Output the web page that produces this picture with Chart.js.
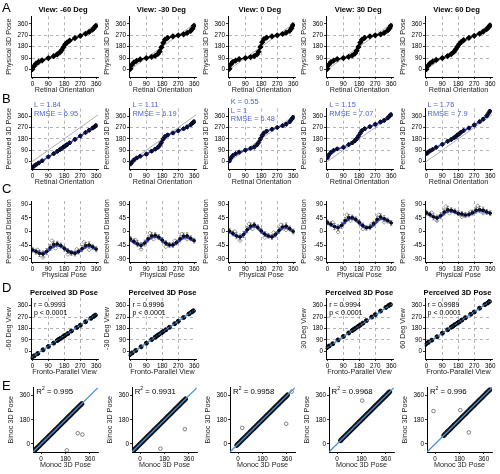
<!DOCTYPE html>
<html>
<head>
<meta charset="utf-8">
<script src="https://cdn.jsdelivr.net/npm/chart.js@4.4.1/dist/chart.umd.min.js"></script>
<style>
  body { margin: 0; background: #fff; }
  #fig { position: relative; width: 500px; height: 474px; overflow: hidden; font-family: "Liberation Sans", Arial, sans-serif; }
  #fig canvas { position: absolute; }
  .t { position: absolute; white-space: nowrap; line-height: 1; color: #000; }
</style>
</head>
<body>
<div id="fig"></div>
<script>
// ---------- data ----------
const views = ['-60', '-30', '0', '30', '60'];
const ticks360 = [0, 90, 180, 270, 360];
const ticksE = [0, 180, 360];
const ticksDist = [-90, -45, 0, 45, 90];
const midLines = [90, 180, 270];

// A / B : retinal orientation (deg)
const retinal = [0, 8, 20, 35, 55, 90, 120, 140, 155, 165, 175, 185, 195, 210, 240, 270, 300, 320, 340, 350, 358];
const physA = [
  [2, 25, 45, 60, 72, 90, 105, 118, 135, 152, 175, 198, 212, 228, 248, 265, 282, 296, 315, 332, 345],
  [5, 35, 55, 68, 80, 90, 100, 108, 122, 142, 175, 210, 235, 250, 262, 270, 278, 288, 305, 322, 345],
  [5, 40, 60, 70, 82, 90, 98, 106, 118, 140, 178, 215, 240, 252, 262, 270, 280, 290, 305, 325, 350],
  [5, 38, 58, 70, 82, 90, 100, 110, 125, 148, 178, 212, 235, 250, 262, 270, 278, 288, 308, 325, 345],
  [2, 28, 48, 62, 75, 90, 106, 120, 138, 158, 180, 200, 215, 232, 250, 266, 282, 298, 318, 332, 348]
];
const errA = [6, 8, 6, 5, 5, 6, 6, 8, 8, 10, 10, 10, 8, 8, 6, 6, 6, 8, 8, 10, 10];

const percB = [
  [-45, -38, -25, -12, 5, 38, 62, 80, 95, 104, 115, 124, 133, 148, 175, 202, 230, 248, 266, 276, 285],
  [-20, -6, 12, 28, 42, 58, 82, 98, 112, 128, 150, 178, 198, 210, 226, 244, 260, 274, 292, 305, 316],
  [5, 28, 48, 62, 74, 90, 104, 114, 132, 152, 180, 206, 226, 240, 256, 270, 284, 296, 316, 335, 350],
  [30, 52, 72, 88, 100, 112, 134, 148, 164, 180, 200, 224, 245, 260, 276, 295, 314, 326, 346, 360, 372],
  [62, 72, 84, 96, 112, 136, 160, 175, 188, 198, 210, 220, 232, 246, 266, 290, 316, 336, 362, 382, 400]
];
const fitB = [
  [-48, -40, -28, -14, 4, 36, 62, 80, 94, 103, 113, 123, 133, 148, 176, 202, 230, 248, 266, 275, 283],
  [-22, -8, 10, 26, 40, 58, 82, 98, 112, 128, 150, 178, 196, 210, 226, 244, 260, 274, 292, 304, 314],
  [2, 26, 46, 60, 72, 90, 104, 114, 130, 150, 180, 208, 228, 242, 256, 270, 284, 296, 314, 332, 348],
  [28, 50, 70, 86, 98, 112, 134, 148, 164, 180, 200, 224, 244, 258, 276, 294, 314, 326, 344, 358, 370],
  [60, 70, 82, 95, 112, 136, 160, 174, 186, 196, 208, 220, 232, 246, 266, 290, 316, 336, 360, 380, 398]
];
const errB = [8, 8, 8, 6, 6, 8, 8, 10, 10, 12, 12, 12, 10, 10, 8, 8, 8, 10, 10, 12, 12];
const statsB = [
  ['L = 1.84', 'RMSE = 6.95'],
  ['L = 1.11', 'RMSE = 6.19'],
  ['K = 0.55', 'L = 1', 'RMSE = 6.48'],
  ['L = 1.15', 'RMSE = 7.07'],
  ['L = 1.76', 'RMSE = 7.9']
];

// C : physical pose (deg) vs perceived distortion
const physPose = [0, 20, 40, 60, 80, 100, 120, 140, 160, 180, 200, 220, 240, 260, 280, 300, 320, 340, 360];
const distC = [
  [-60, -66, -72, -74, -66, -52, -42, -40, -46, -56, -64, -70, -72, -66, -56, -46, -44, -50, -58],
  [-24, -32, -40, -46, -38, -24, -14, -12, -18, -28, -38, -44, -44, -36, -24, -15, -14, -22, -30],
  [2, -6, -14, -18, -10, 6, 18, 22, 14, 2, -8, -14, -18, -10, 4, 15, 18, 10, 0],
  [30, 24, 16, 12, 20, 36, 46, 46, 40, 30, 20, 12, 14, 26, 40, 48, 42, 36, 28],
  [62, 56, 48, 44, 52, 64, 72, 70, 66, 60, 58, 54, 56, 62, 70, 72, 70, 64, 60]
];
const fitC = [
  [-60, -65, -70, -71, -66, -56, -47, -44, -47, -55, -63, -68, -70, -66, -58, -50, -47, -51, -58],
  [-28, -35, -42, -44, -38, -27, -18, -16, -20, -30, -39, -44, -44, -37, -27, -19, -18, -24, -31],
  [0, -8, -15, -17, -10, 4, 15, 18, 12, 0, -10, -16, -17, -10, 2, 13, 15, 8, 0],
  [28, 22, 16, 14, 20, 32, 42, 44, 38, 28, 18, 13, 14, 22, 34, 43, 42, 36, 28],
  [60, 54, 48, 46, 50, 60, 68, 68, 64, 58, 56, 54, 55, 60, 67, 70, 68, 64, 60]
];
const errC = [8, 8, 10, 10, 10, 10, 10, 8, 8, 8, 8, 8, 8, 8, 10, 10, 10, 8, 8];
// individual-observer samples (open diamonds)
const rawCx = [30, 60, 110, 130, 200, 250, 290, 320];
const rawC = [
  [-60, -85, -30, -55, -75, -58, -35, -60],
  [-28, -58, -5, -25, -50, -30, -8, -25],
  [0, -30, 25, 8, -20, -3, 22, 5],
  [30, -2, 55, 35, 8, 25, 55, 30],
  [62, 35, 82, 60, 48, 65, 84, 60]
];

// D : other view vs fronto-parallel view
const frontoX = [-5, 10, 30, 60, 90, 120, 140, 150, 160, 175, 185, 200, 220, 250, 270, 300, 330, 345, 355];
const viewD = [
  [-50, -35, -17, 12, 38, 65, 85, 95, 103, 117, 127, 140, 160, 188, 205, 233, 260, 275, 285],
  [-27, -12, 7, 36, 64, 93, 112, 122, 132, 146, 156, 170, 189, 218, 237, 266, 295, 309, 319],
  null,
  [28, 42, 60, 90, 117, 145, 164, 174, 184, 198, 207, 222, 242, 270, 289, 317, 346, 360, 368],
  [55, 70, 88, 115, 143, 170, 190, 198, 210, 222, 232, 246, 265, 292, 310, 340, 368, 380, 392]
];
const errD = [6, 6, 6, 6, 6, 6, 8, 8, 8, 8, 8, 8, 8, 6, 6, 6, 8, 8, 8];
const fitDx = [-10, 362];
const fitDy = [[-52, 292], [-32, 326], null, [22, 372], [50, 398]];
const statsD = [['0.9993'], ['0.9996'], null, ['0.9994'], ['0.9989']];

// E : binocular vs monocular perceived pose
const bandE = [[-50, 300], [-50, 335], [-10, 365], [25, 388], [65, 410]];
const monoE = [
  [-45, -30, -10, 10, 40, 60, 80, 100, 120, 150, 180, 200, 220, 240, 260, 280, 295, 270, 305, 190],
  [-45, -25, -5, 20, 50, 80, 100, 130, 160, 180, 200, 230, 260, 290, 310, 330, 330, 150],
  [-5, 10, 30, 60, 90, 120, 150, 180, 210, 240, 270, 300, 330, 350, 362, 30, 355, 395],
  [30, 50, 70, 100, 130, 160, 190, 220, 250, 280, 310, 340, 360, 380, 185],
  [70, 90, 110, 140, 170, 200, 230, 260, 290, 320, 350, 380, 400, -12, 186, 249]
];
const binoE = [
  [-40, -28, -14, 14, 36, 64, 76, 104, 116, 154, 176, 204, 216, 244, 256, 284, 290, 80, 70, -48],
  [-40, -28, -1, 16, 54, 76, 104, 126, 164, 176, 204, 226, 264, 286, 314, 326, 110, -35],
  [0, 6, 34, 56, 94, 116, 154, 176, 214, 236, 274, 296, 334, 346, 358, 120, 150, 390],
  [24, 54, 66, 104, 126, 164, 186, 224, 246, 284, 306, 344, 356, 384, 323],
  [62, 94, 106, 144, 166, 204, 226, 264, 286, 324, 346, 384, 396, 245, 252, 86]
];
const r2E = ['0.995', '0.9931', '0.9958', '0.9968', '0.996'];

// ---------- drawing ----------
const FONT = '"Liberation Sans", Arial, sans-serif';
Chart.defaults.font.family = FONT;
const fig = document.getElementById('fig');

const BLUE = '#3347cc';
const TEXTBLUE = '#4a5fd6';
const LIGHTBLUE = '#4a92dc';

const colLeft = [31, 129.4, 227.8, 326.2, 424.6];
const colLeftE = [33.3, 131.7, 230.1, 328.5, 426.9];

function pts(xs, ys) {
  return xs.map((x, i) => ({ x: x, y: ys[i] }));
}

function text(str, x, y, size, opts = {}) {
  const d = document.createElement('div');
  d.className = 't';
  d.innerHTML = str;
  d.style.left = x + 'px';
  d.style.top = y + 'px';
  d.style.fontSize = size + 'px';
  if (opts.bold) d.style.fontWeight = 'bold';
  if (opts.color) d.style.color = opts.color;
  d.style.transform = opts.center ? 'translate(-50%,-50%)' : 'translate(0,-50%)';
  fig.appendChild(d);
}

// vertical error bars for datasets that carry an errs array
const errorBars = {
  id: 'errorBars',
  afterDatasetsDraw(chart) {
    const ctx = chart.ctx;
    const ys = chart.scales.y;
    chart.data.datasets.forEach((ds, i) => {
      if (!ds.errs) return;
      const meta = chart.getDatasetMeta(i);
      ctx.save();
      ctx.strokeStyle = ds.errColor || '#000';
      ctx.lineWidth = ds.errWidth || 0.7;
      meta.data.forEach((p, j) => {
        const v = ds.data[j].y, e = ds.errs[j];
        const y1 = ys.getPixelForValue(v - e), y2 = ys.getPixelForValue(v + e);
        ctx.beginPath();
        ctx.moveTo(p.x, y1); ctx.lineTo(p.x, y2);
        ctx.moveTo(p.x - 1.2, y1); ctx.lineTo(p.x + 1.2, y1);
        ctx.moveTo(p.x - 1.2, y2); ctx.lineTo(p.x + 1.2, y2);
        ctx.stroke();
      });
      ctx.restore();
    });
  }
};

function axis(range, ticks, grid, title, size) {
  return {
    type: 'linear',
    min: range[0],
    max: range[1],
    afterBuildTicks: s => { s.ticks = ticks.map(v => ({ value: v })); },
    afterFit: s => {
      if (s.isHorizontal()) s.height = size; else s.width = size;
      s.paddingLeft = s.paddingRight = s.paddingTop = s.paddingBottom = 0;
    },
    ticks: { font: { size: 6.3 }, color: '#000', padding: 1, maxRotation: 0, autoSkip: false },
    grid: {
      color: c => (c.tick && grid.includes(c.tick.value)) ? '#a0a0a0' : 'rgba(0,0,0,0)',
      tickColor: '#000',
      tickLength: 2,
      lineWidth: 0.8
    },
    border: { color: '#000', width: 1, dash: [3, 3] },
    title: { display: true, text: title, font: { size: 7.2 }, color: '#222', padding: 0 }
  };
}

function panel(o) {
  const yw = o.yw || 26, xh = 17, pt = 4, pr = 9;
  const cv = document.createElement('canvas');
  cv.width = Math.round(yw + o.w + pr);
  cv.height = Math.round(pt + o.h + xh);
  cv.style.left = (o.left - yw) + 'px';
  cv.style.top = (o.top - pt) + 'px';
  fig.appendChild(cv);
  new Chart(cv, {
    type: 'scatter',
    data: { datasets: o.datasets },
    options: {
      responsive: false,
      animation: false,
      devicePixelRatio: 1,
      layout: { padding: { top: pt, right: cv.width - yw - o.w, left: 0, bottom: 0 } },
      plugins: { legend: { display: false }, tooltip: { enabled: false } },
      scales: {
        x: axis(o.xr, o.xt, o.xg, o.xTitle, xh),
        y: axis(o.yr, o.yt, o.yg, o.yTitle, yw)
      }
    },
    plugins: [errorBars]
  });
}

const diag = { data: pts([-10, 370], [-10, 370]), showLine: true, borderColor: '#9a9a9a', borderWidth: 0.8, pointRadius: 0 };

// row A
views.forEach((v, i) => {
  panel({
    left: colLeft[i], top: 15, w: 67, h: 62,
    xr: [-8, 370], yr: [-60, 420], xt: ticks360, yt: ticks360, xg: midLines, yg: midLines,
    xTitle: 'Retinal Orientation', yTitle: 'Physical 3D Pose',
    datasets: [
      { data: pts(retinal, physA[i]), showLine: true, borderColor: '#000', borderWidth: 1.3,
        pointStyle: 'rectRot', pointRadius: 2.2, pointBackgroundColor: '#000', pointBorderColor: '#000',
        errs: errA },
      Object.assign({}, diag)
    ]
  });
  text('View: ' + v + ' Deg', colLeft[i] + 32, 9.5, 7.6, { bold: true, center: true });
});

// row B
views.forEach((v, i) => {
  panel({
    left: colLeft[i], top: 107, w: 67, h: 62,
    xr: [-8, 370], yr: [-60, 420], xt: ticks360, yt: ticks360, xg: midLines, yg: midLines,
    xTitle: 'Retinal Orientation', yTitle: 'Perceived 3D Pose',
    datasets: [
      { data: pts(retinal, percB[i]), pointStyle: 'rectRot', pointRadius: 2.2,
        pointBackgroundColor: '#1c2266', pointBorderColor: '#10143f', errs: errB },
      { data: pts(retinal, fitB[i]), showLine: true, borderColor: BLUE, borderWidth: 1.6,
        pointRadius: 1.3, pointBackgroundColor: BLUE, pointBorderColor: BLUE },
      Object.assign({}, diag)
    ]
  });
  statsB[i].forEach((s, k) => text(s, colLeft[i] + 3, (i === 2 ? 102 : 105) + k * 8.5, 7.4, { color: TEXTBLUE }));
});

// row C
views.forEach((v, i) => {
  panel({
    left: colLeft[i], top: 200, w: 67, h: 62,
    xr: [-8, 370], yr: [-100, 100], xt: ticks360, yt: ticksDist, xg: midLines, yg: [],
    xTitle: 'Physical Pose', yTitle: 'Perceived Distortion',
    datasets: [
      { data: pts(physPose, distC[i]), pointRadius: 1.3, pointBackgroundColor: '#000', pointBorderColor: '#000',
        errs: errC, errWidth: 0.5, errColor: '#333' },
      { data: pts(physPose, fitC[i]), showLine: true, borderColor: BLUE, borderWidth: 3, pointRadius: 0,
        cubicInterpolationMode: 'monotone' },
      { data: pts(rawCx, rawC[i]), pointStyle: 'rectRot', pointRadius: 2, pointBackgroundColor: 'rgba(255,255,255,0)',
        pointBorderColor: '#555', pointBorderWidth: 0.6 },
      { data: pts(physPose, distC[i]), showLine: true, borderColor: '#444', borderWidth: 0.7, borderDash: [2, 2],
        pointRadius: 0 }
    ]
  });
});

// row D
views.forEach((v, i) => {
  if (!viewD[i]) return;
  panel({
    left: colLeft[i], top: 297, w: 67, h: 62,
    xr: [-8, 370], yr: [-60, 420], xt: ticks360, yt: ticks360, xg: midLines, yg: midLines,
    xTitle: 'Fronto-Parallel View', yTitle: v + ' Deg View',
    datasets: [
      { data: pts(fitDx, fitDy[i]), showLine: true, borderColor: LIGHTBLUE, borderWidth: 1.4, pointRadius: 0 },
      { data: pts(frontoX, viewD[i]), pointRadius: 2, pointBackgroundColor: '#000', pointBorderColor: '#000',
        errs: errD }
    ]
  });
  text('Perceived 3D Pose', colLeft[i] + 33, 293, 7.6, { bold: true, center: true });
  text('r = ' + statsD[i][0], colLeft[i] + 3, 303.5, 7);
  text('p &lt; 0.0001', colLeft[i] + 3, 312, 7);
});

// row E
views.forEach((v, i) => {
  panel({
    left: colLeftE[i], top: 387, w: 65, h: 65,
    xr: [-60, 420], yr: [-60, 420], xt: ticksE, yt: ticksE, xg: [], yg: [],
    xTitle: 'Monoc 3D Pose', yTitle: 'Binoc 3D Pose',
    datasets: [
      { data: pts([-60, 420], [-60, 420]), showLine: true, borderColor: LIGHTBLUE, borderWidth: 1.3, pointRadius: 0 },
      { data: pts(bandE[i], bandE[i]), showLine: true, borderColor: '#111', borderWidth: 5, pointRadius: 0,
        borderCapStyle: 'round' },
      { data: pts(monoE[i], binoE[i]), pointRadius: 1.8, pointBackgroundColor: 'rgba(255,255,255,0)',
        pointBorderColor: '#333', pointBorderWidth: 0.6 }
    ]
  });
  text('R<sup style="font-size:5px">2</sup> = ' + r2E[i], colLeftE[i] + 3, 391, 7.8);
});

// panel letters
[['A', 7], ['B', 98], ['C', 188], ['D', 287], ['E', 385]].forEach(l => text(l[0], 2, l[1], 13));
</script>
</body>
</html>
